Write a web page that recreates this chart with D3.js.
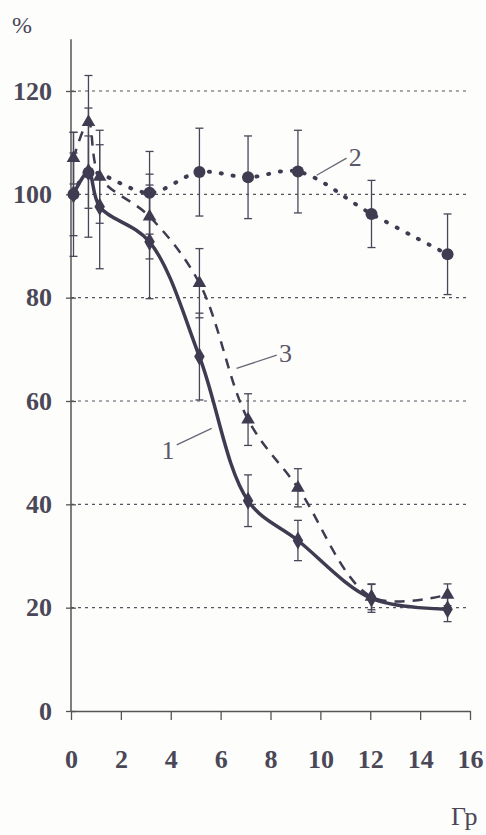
<!DOCTYPE html>
<html>
<head>
<meta charset="utf-8">
<script src="https://cdn.jsdelivr.net/npm/d3@7"></script>
<style>
  html, body { margin: 0; padding: 0; background: #fdfdfc; }
  svg { display: block; }
  text { font-family: "Liberation Serif", "DejaVu Serif", serif; }
</style>
</head>
<body>
<svg id="chart"></svg>
<script>
// values
const xTicks = [0, 2, 4, 6, 8, 10, 12, 14, 16];
const yTicks = [0, 20, 40, 60, 80, 100, 120];
const gridTicks = [20, 40, 60, 80, 100, 120];

const dose = [0.1, 0.7, 1.15, 3.15, 5.15, 7.1, 9.1, 12.05, 15.1];
const series1 = [100, 104.3, 97.6, 90.8, 68.6, 40.7, 33.0, 21.8, 19.7];
const err1 = [8, 7, 12, 11, 8.4, 5, 3.9, 2.7, 2.4];

const dose2 = [0.1, 0.7, 3.15, 5.15, 7.1, 9.1, 12.05, 15.1];
const series2 = [100, 104.2, 100.3, 104.3, 103.3, 104.4, 96.2, 88.4];
const err2 = [12, 12.5, 8, 8.5, 8, 8, 6.5, 7.8];

const series3 = [107, 114, 103.4, 95.7, 82.8, 56.4, 43.2, 22.1, 22.5];
const err3 = [5, 9, 9, 8.2, 6.7, 5, 3.7, 2.5, 2.1];

// curve labels: text position and leader line, in data units
const labels = [
  { text: "1", at: [3.89, 50.5], from: [4.24, 51.5], to: [5.64, 54.7] },
  { text: "3", at: [8.6, 69.3], from: [6.64, 66.3], to: [8.25, 68.9] },
  { text: "2", at: [11.4, 107.2], from: [9.85, 103.7], to: [11.05, 107] }
];

const W = 486, H = 835;
const ink = "#3f3b50";
const font = "'Liberation Serif', 'DejaVu Serif', serif";
const svg = d3.select("#chart").attr("width", W).attr("height", H);

const x = d3.scaleLinear([0, 16], [71, 470]);
const y = d3.scaleLinear([0, 120], [711, 91]);

// grid
svg.append("g").selectAll("line")
  .data(gridTicks).join("line")
  .attr("x1", x(0)).attr("x2", x(16))
  .attr("y1", d => y(d)).attr("y2", d => y(d))
  .attr("stroke", "#56535f").attr("stroke-width", 1.2)
  .attr("stroke-dasharray", "3 4");

// y axis
const yAxis = svg.append("g")
  .attr("transform", `translate(${x(0)},0)`)
  .attr("font-family", font)
  .call(d3.axisLeft(y).tickValues(yTicks).tickSize(5).tickPadding(14));
yAxis.attr("font-family", font);
yAxis.select(".domain").remove();
yAxis.selectAll(".tick line").attr("x2", 5).attr("x1", -5).attr("stroke", "#555").attr("stroke-width", 1.3);
yAxis.selectAll(".tick text")
  .attr("font-family", font)
  .attr("font-weight", "bold").attr("font-size", 26).attr("fill", "#4a4757");
svg.append("line")
  .attr("x1", x(0)).attr("x2", x(0))
  .attr("y1", y(0)).attr("y2", y(130))
  .attr("stroke", "#555").attr("stroke-width", 1.5);

// x axis
const xAxis = svg.append("g")
  .attr("transform", `translate(0,${y(0)})`)
  .call(d3.axisBottom(x).tickValues(xTicks).tickSize(9).tickPadding(30).tickSizeOuter(0));
xAxis.attr("font-family", font);
xAxis.select(".domain").attr("stroke", "#555").attr("stroke-width", 1.5);
xAxis.selectAll(".tick line").attr("stroke", "#555").attr("stroke-width", 1.3);
xAxis.selectAll(".tick text")
  .attr("font-family", font)
  .attr("font-weight", "bold").attr("font-size", 26).attr("fill", "#4a4757");

// axis titles
svg.append("text")
  .attr("x", 12).attr("y", 33)
  .attr("font-family", font)
  .attr("font-size", 24).attr("fill", "#4a4757")
  .text("%");
svg.append("text")
  .attr("x", 451).attr("y", 825)
  .attr("font-family", font)
  .attr("font-size", 26).attr("fill", "#4a4757")
  .text("Гр");

// error bars
function errorBars(xs, ys, es) {
  const g = svg.append("g").attr("stroke", "#4a4658").attr("stroke-width", 1.3);
  xs.forEach((xv, i) => {
    const cx = x(xv), top = y(ys[i] + es[i]), bot = y(ys[i] - es[i]);
    g.append("line").attr("x1", cx).attr("x2", cx).attr("y1", top).attr("y2", bot);
    g.append("line").attr("x1", cx - 4).attr("x2", cx + 4).attr("y1", top).attr("y2", top);
    g.append("line").attr("x1", cx - 4).attr("x2", cx + 4).attr("y1", bot).attr("y2", bot);
  });
}
errorBars(dose2, series2, err2);
errorBars(dose, series3, err3);
errorBars(dose, series1, err1);

// lines
const line = d3.line()
  .x(d => x(d[0]))
  .y(d => y(d[1]))
  .curve(d3.curveCatmullRom.alpha(0.5));

svg.append("path")
  .datum(dose2.map((d, i) => [d, series2[i]]))
  .attr("fill", "none").attr("stroke", ink)
  .attr("stroke-width", 4).attr("stroke-linecap", "round")
  .attr("stroke-dasharray", "1 11")
  .attr("d", line);

svg.append("path")
  .datum(dose.map((d, i) => [d, series3[i]]))
  .attr("fill", "none").attr("stroke", ink)
  .attr("stroke-width", 2.5)
  .attr("stroke-dasharray", "10 8")
  .attr("d", line);

svg.append("path")
  .datum(dose.map((d, i) => [d, series1[i]]))
  .attr("fill", "none").attr("stroke", ink)
  .attr("stroke-width", 3.5)
  .attr("d", line);

// markers
svg.append("g").selectAll("circle")
  .data(dose2.map((d, i) => [d, series2[i]])).join("circle")
  .attr("cx", d => x(d[0])).attr("cy", d => y(d[1])).attr("r", 6)
  .attr("fill", ink);

svg.append("g").selectAll("path")
  .data(dose.map((d, i) => [d, series3[i]])).join("path")
  .attr("transform", d => `translate(${x(d[0])},${y(d[1])})`)
  .attr("d", d3.symbol(d3.symbolTriangle, 80))
  .attr("fill", ink);

svg.append("g").selectAll("path")
  .data(dose.map((d, i) => [d, series1[i]])).join("path")
  .attr("transform", d => `translate(${x(d[0])},${y(d[1])})`)
  .attr("d", d3.symbol(d3.symbolDiamond, 95))
  .attr("fill", ink);

// curve labels
const lg = svg.append("g");
lg.selectAll("line").data(labels).join("line")
  .attr("x1", d => x(d.from[0])).attr("y1", d => y(d.from[1]))
  .attr("x2", d => x(d.to[0])).attr("y2", d => y(d.to[1]))
  .attr("stroke", "#6a6775").attr("stroke-width", 1.3);
lg.selectAll("text").data(labels).join("text")
  .attr("x", d => x(d.at[0])).attr("y", d => y(d.at[1]))
  .attr("dy", "0.35em").attr("text-anchor", "middle")
  .attr("font-family", font)
  .attr("font-size", 26).attr("fill", "#5a5766")
  .text(d => d.text);
</script>
</body>
</html>
